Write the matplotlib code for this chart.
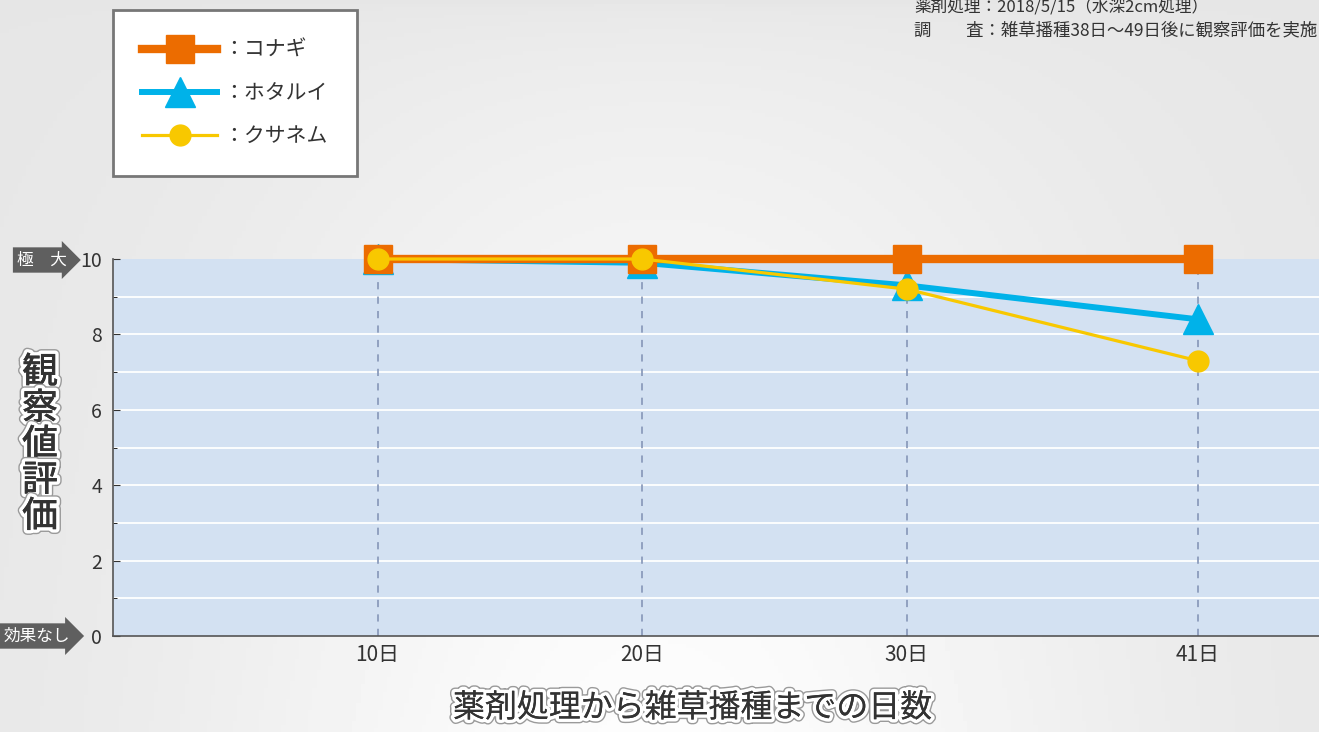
import matplotlib.pyplot as plt
import matplotlib.patheffects as pe
import numpy as np

plt.rcParams['font.family'] = ['Noto Sans CJK JP', 'DejaVu Sans']

days = [10, 20, 30, 41]
day_labels = ['10日', '20日', '30日', '41日']
konagi = [10, 10, 10, 10]
hotarui = [10, 9.9, 9.3, 8.4]
kusanemu = [10, 10, 9.2, 7.3]
names = ['：コナギ', '：ホタルイ', '：クサネム']

W, H = 1319, 732
fig = plt.figure(figsize=(W / 100, H / 100), dpi=100)
fig.patch.set_facecolor('#eeecef')

# soft background
bg = fig.add_axes([0, 0, 1, 1], zorder=-10)
yy, xx = np.mgrid[0:1:200j, 0:1:300j]
shade = 0.90 + 0.09 * np.exp(-((xx - 0.5) ** 2) / 0.12) * (yy ** 0.5)
bg.imshow(shade, cmap='gray', vmin=0, vmax=1, aspect='auto', extent=[0, 1, 0, 1])
bg.axis('off')

ax = fig.add_axes([113 / W, (H - 636) / H, 1 - 113 / W, (636 - 259) / H])
ax.set_facecolor('#d3e1f2')
ax.set_xlim(0, (W - 113.5) / 26.45)
ax.set_ylim(0, 10)

for v in range(1, 10):
    ax.axhline(v, color='white', lw=1.3, zorder=1)
for d in days:
    ax.plot([d, d], [0, 10], color='#8c9cbc', lw=1.3, ls=(0, (4, 4)), zorder=2)

l1, = ax.plot(days, konagi, color='#ec6c00', lw=6, marker='s', ms=20,
              clip_on=False, zorder=5)
l2, = ax.plot(days, hotarui, color='#00b2e9', lw=4.3, marker='^', ms=21,
              clip_on=False, zorder=4)
l3, = ax.plot(days, kusanemu, color='#f8c800', lw=2.3, marker='o', ms=15,
              clip_on=False, zorder=6)

ax.set_xticks(days)
ax.set_xticklabels(day_labels, fontsize=15, color='#333333')
ax.set_yticks([0, 2, 4, 6, 8, 10])
ax.set_yticks(range(11), minor=True)
ax.tick_params(axis='y', labelsize=14, colors='#333333', direction='in', length=5, pad=8)
ax.tick_params(axis='y', which='minor', direction='in', length=3)
ax.tick_params(axis='x', length=0, pad=6)
for s in ['top', 'right']:
    ax.spines[s].set_visible(False)
for s in ['left', 'bottom']:
    ax.spines[s].set_color('#555555')
    ax.spines[s].set_linewidth(1.2)

# end labels
fig.text(42 / W, 1 - 260 / H, '極　大', fontsize=12, color='white', ha='center',
         va='center', bbox=dict(boxstyle='rarrow,pad=0.25', fc='#5f5f5f', ec='none'))
fig.text(37 / W, 1 - 636 / H, '効果なし', fontsize=12, color='white', ha='center',
         va='center', bbox=dict(boxstyle='rarrow,pad=0.25', fc='#5f5f5f', ec='none'))

outline = [pe.withStroke(linewidth=7, foreground='#9a9a9a'),
           pe.withStroke(linewidth=5, foreground='white'), pe.Normal()]
fig.text(40 / W, 1 - 445 / H, '観\n察\n値\n評\n価', fontsize=26, color='#333333',
         ha='center', va='center', linespacing=1.0, fontweight='medium',
         path_effects=outline)
fig.text(693 / W, 1 - 708 / H, '薬剤処理から雑草播種までの日数', fontsize=23,
         color='#333333', ha='center', va='center', path_effects=outline)

fig.text(914 / W, 1 - 7 / H, '薬剤処理：2018/5/15（水深2cm処理）', fontsize=12,
         color='#333333', ha='left', va='center')
fig.text(914 / W, 1 - 30 / H, '調　　査：雑草播種38日～49日後に観察評価を実施',
         fontsize=12.5, color='#333333', ha='left', va='center')

leg = fig.legend([l1, l2, l3], names, loc='upper left',
                 bbox_to_anchor=(113 / W, 1 - 10 / H), fontsize=15,
                 handlelength=3.6, labelspacing=1.0, borderpad=1.4,
                 handletextpad=0.3, borderaxespad=0, fancybox=False,
                 framealpha=1, edgecolor='#777777')
leg.get_frame().set_linewidth(2)
for t in leg.get_texts():
    t.set_color('#333333')

fig.savefig('out.png', dpi=100, facecolor=fig.get_facecolor())
